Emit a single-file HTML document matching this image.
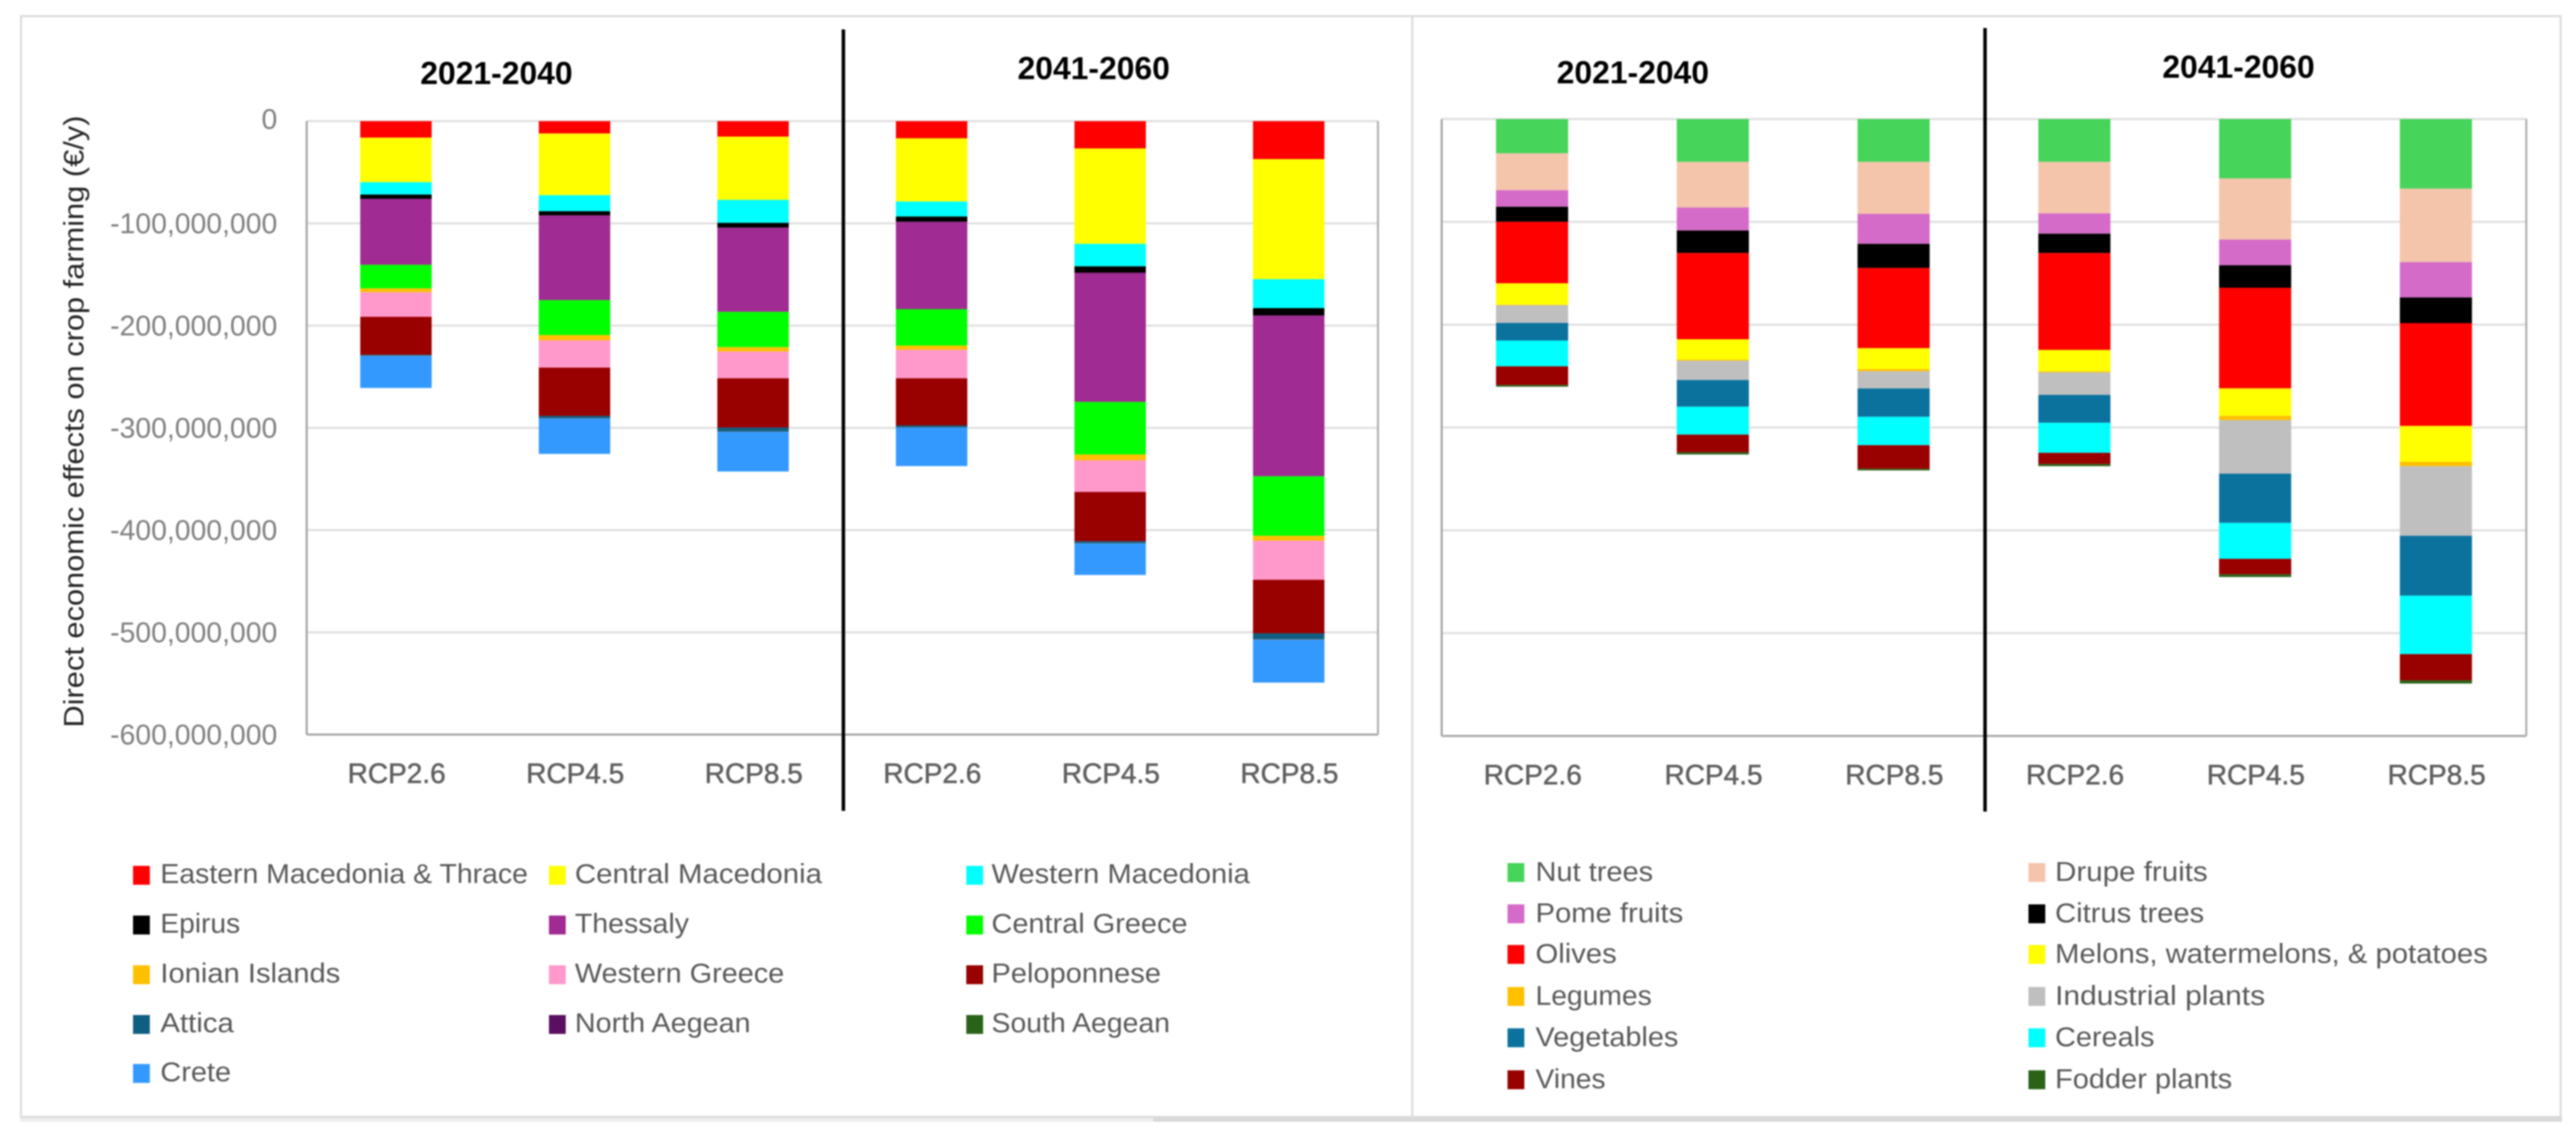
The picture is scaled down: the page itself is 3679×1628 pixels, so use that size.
<!DOCTYPE html>
<html lang="en">
<head>
<meta charset="utf-8">
<title>Direct economic effects on crop farming</title>
<style>
html,body{margin:0;padding:0;background:#fff;}
body{width:3679px;height:1628px;overflow:hidden;}
svg{display:block;font-family:"Liberation Sans",Arial,sans-serif;filter:blur(1px);}
</style>
</head>
<body>
<svg id="figure" width="3679" height="1628" viewBox="0 0 3679 1628" xmlns="http://www.w3.org/2000/svg">
  <rect x="0" y="0" width="3679" height="1628" fill="#ffffff"/>
  <rect x="29" y="1594" width="1620" height="8" fill="#eeeeee"/>
  <rect x="1647" y="1594" width="2012" height="8" fill="#d9d9d9"/>
  <rect x="30" y="23" width="1987" height="1572" fill="none" stroke="#dcdcdc" stroke-width="3"/>
  <rect x="2017" y="23" width="1640" height="1572" fill="none" stroke="#dcdcdc" stroke-width="3"/>
  <g id="regionChart"></g>
  <g id="cropChart"></g>
  <text transform="translate(119,602) rotate(-90)" text-anchor="middle" font-size="40" fill="#262626" textLength="874" lengthAdjust="spacingAndGlyphs">Direct economic effects on crop farming (€/y)</text>
  <text x="709" y="120" text-anchor="middle" font-size="45.5" font-weight="bold" fill="#000">2021-2040</text>
  <text x="1562" y="113" text-anchor="middle" font-size="45.5" font-weight="bold" fill="#000">2041-2060</text>
  <text x="2332" y="119" text-anchor="middle" font-size="45.5" font-weight="bold" fill="#000">2021-2040</text>
  <text x="3197" y="111" text-anchor="middle" font-size="45.5" font-weight="bold" fill="#000">2041-2060</text>
  <g id="regionLegend"></g>
  <g id="cropLegend"></g>
  <rect x="1202" y="42" width="5" height="1116" fill="#000"/>
  <rect x="2832.5" y="40" width="5" height="1119" fill="#000"/>
</svg>
<script>
// Shared axis data (values in millions of euros per year)
const categories = ["RCP2.6", "RCP4.5", "RCP8.5", "RCP2.6", "RCP4.5", "RCP8.5"];
const yTicks = [0, -100, -200, -300, -400, -500, -600];
const yTickLabels = ["0", "-100,000,000", "-200,000,000", "-300,000,000", "-400,000,000", "-500,000,000", "-600,000,000"];

// Region series, one value per category
const easternMacedonia = [16.2, 12.1, 15.2, 16.8, 26.7, 37.2];
const centralMacedonia = [43.5, 60.3, 61.8, 61.8, 93.3, 117.4];
const westernMacedonia = [12.1, 15.7, 22.5, 14.7, 22.0, 28.3];
const epirus = [4.2, 4.2, 4.7, 5.2, 6.3, 7.3];
const thessaly = [64.5, 82.8, 82.3, 85.4, 126.3, 157.2];
const centralGreece = [23.1, 34.1, 34.6, 35.6, 51.4, 58.2];
const ionianIslands = [3.7, 5.2, 4.2, 4.2, 5.8, 4.7];
const westernGreece = [24.1, 26.7, 26.2, 27.8, 30.9, 38.3];
const peloponnese = [37.2, 47.2, 48.2, 46.1, 48.2, 52.4];
const attica = [0.8, 2.2, 3.8, 1.7, 1.7, 5.7];
const northAegean = [0.1, 0.2, 0.2, 0.2, 0.2, 0.3];
const southAegean = [0.1, 0.2, 0.2, 0.2, 0.2, 0.3];
const crete = [31.4, 34.6, 38.8, 37.7, 30.9, 41.9];

// Crop series, one value per category
const nutTrees = [33.3, 41.7, 41.7, 41.7, 57.8, 67.7];
const drupeFruits = [35.9, 44.3, 50.5, 50.0, 59.4, 71.4];
const pomeFruits = [16.1, 22.4, 29.2, 19.8, 25.0, 34.4];
const citrusTrees = [14.6, 21.9, 23.4, 18.8, 21.9, 25.0];
const olives = [59.9, 83.9, 78.1, 94.3, 97.9, 100.0];
const melons = [20.8, 19.8, 20.3, 20.8, 26.6, 34.9];
const legumes = [0.5, 1.0, 2.1, 1.0, 4.2, 4.2];
const industrialPlants = [17.2, 18.8, 16.7, 21.9, 52.1, 67.7];
const vegetables = [17.2, 26.0, 27.6, 27.1, 47.9, 58.3];
const cereals = [25.0, 27.1, 27.6, 29.2, 34.9, 56.8];
const vines = [18.2, 17.2, 22.9, 10.9, 15.1, 25.5];
const fodderPlants = [1.6, 2.1, 1.6, 2.1, 2.6, 3.1];

const regionNames = ["Eastern Macedonia & Thrace", "Central Macedonia", "Western Macedonia", "Epirus", "Thessaly", "Central Greece", "Ionian Islands", "Western Greece", "Peloponnese", "Attica", "North Aegean", "South Aegean", "Crete"];
const cropNames = ["Nut trees", "Drupe fruits", "Pome fruits", "Citrus trees", "Olives", "Melons, watermelons, & potatoes", "Legumes", "Industrial plants", "Vegetables", "Cereals", "Vines", "Fodder plants"];

const regionSeries = [easternMacedonia, centralMacedonia, westernMacedonia, epirus, thessaly, centralGreece, ionianIslands, westernGreece, peloponnese, attica, northAegean, southAegean, crete];
const cropSeries = [nutTrees, drupeFruits, pomeFruits, citrusTrees, olives, melons, legumes, industrialPlants, vegetables, cereals, vines, fodderPlants];

const regionColors = ["#ff0000", "#ffff00", "#00ffff", "#000000", "#a02b93", "#00ff00", "#ffc000", "#ff99cc", "#990000", "#0f5f80", "#5b0f5f", "#2a6318", "#3399ff"];
const cropColors = ["#47d45a", "#f4c5ab", "#d56bc8", "#000000", "#ff0000", "#ffff00", "#ffc000", "#bfbfbf", "#0b729e", "#00ffff", "#990000", "#2a6318"];

const SVGNS = "http://www.w3.org/2000/svg";

function slug(s) {
  return s.toLowerCase().replace(/[^a-z0-9]+/g, "-").replace(/^-|-$/g, "");
}
function rectEl(parent, x, y, w, h, fill) {
  const el = document.createElementNS(SVGNS, "rect");
  el.setAttribute("x", x);
  el.setAttribute("y", y);
  el.setAttribute("width", w);
  el.setAttribute("height", h);
  el.setAttribute("fill", fill);
  parent.appendChild(el);
  return el;
}
function textEl(parent, x, y, str, size, fill, anchor) {
  const el = document.createElementNS(SVGNS, "text");
  el.setAttribute("x", x);
  el.setAttribute("y", y);
  el.setAttribute("font-size", size);
  el.setAttribute("fill", fill);
  el.setAttribute("text-anchor", anchor);
  el.textContent = str;
  parent.appendChild(el);
  return el;
}

function drawChart(cfg) {
  const root = document.getElementById(cfg.id);
  const yDomainTop = yTicks[0];
  const yDomainBottom = yTicks[yTicks.length - 1];
  const yScale = function (v) {
    return cfg.top + (yDomainTop - v) / (yDomainTop - yDomainBottom) * (cfg.bottom - cfg.top);
  };
  const band = (cfg.right - cfg.left) / categories.length;
  const xCenter = function (i) { return cfg.left + band * (i + 0.5); };

  yTicks.forEach(function (t, i) {
    const g = rectEl(root, cfg.left, yScale(t) - 1.5, cfg.right - cfg.left, 3, t === yDomainBottom ? "#a6a6a6" : "#dfdfdf");
    
    
    if (cfg.showTicks) {
      const lab = textEl(root, cfg.left - 42, yScale(t) + (t === 0 ? 11 : 14), yTickLabels[i], 40.5, "#7f7f7f", "end");
      
      
    }
  });
  const axL = rectEl(root, cfg.left - 1.5, cfg.top, 3, cfg.bottom - cfg.top, "#a6a6a6");
  
  
  const axR = rectEl(root, cfg.right - 1.5, cfg.top, 3, cfg.bottom - cfg.top, "#b0b0b0");
  
  

  categories.forEach(function (c, i) {
    let cum = 0;
    cfg.series.forEach(function (vals, s) {
      const y0 = yScale(-cum);
      cum += vals[i];
      const y1 = yScale(-cum);
      const seg = rectEl(root, xCenter(i) - cfg.barWidth / 2, y0, cfg.barWidth, y1 - y0, cfg.colors[s]);
      
      
    });
    const lab = textEl(root, xCenter(i) + 1, cfg.bottom + 69, c, 40, "#5f5f5f", "middle");
    lab.setAttribute("stroke", "#5f5f5f");
    lab.setAttribute("stroke-width", "0.7");
    
    
  });
}

function drawLegend(cfg) {
  const root = document.getElementById(cfg.id);
  cfg.names.forEach(function (name, i) {
    const col = i % cfg.cols;
    const row = Math.floor(i / cfg.cols);
    const sw = rectEl(root, cfg.swatchX[col], cfg.rowY[row] - 13.5, 24, 27, cfg.colors[i]);
    
    
    const t = textEl(root, cfg.textX[col], cfg.rowY[row] + cfg.textDy, name, cfg.fontSize, "#595959", "start");
    t.setAttribute("textLength", cfg.labelLengths[i]);
    t.setAttribute("lengthAdjust", "spacingAndGlyphs");
    
    
  });
}

drawChart({ id: "regionChart", left: 438, right: 1968, top: 173, bottom: 1049, barWidth: 102, series: regionSeries, colors: regionColors, names: regionNames, showTicks: true });
drawChart({ id: "cropChart", left: 2059, right: 3608, top: 170, bottom: 1051, barWidth: 103, series: cropSeries, colors: cropColors, names: cropNames, showTicks: false });

drawLegend({ id: "regionLegend", names: regionNames, colors: regionColors, cols: 3, swatchX: [190, 784, 1380], textX: [229, 821, 1416], rowY: [1250, 1321, 1392, 1463, 1533], fontSize: 39, textDy: 11, labelLengths: [525, 353, 369, 114, 163, 280, 257, 299, 242, 105, 251, 255, 101] });
drawLegend({ id: "cropLegend", names: cropNames, colors: cropColors, cols: 2, swatchX: [2153, 2897], textX: [2193, 2935], rowY: [1246, 1305, 1363, 1423, 1482, 1542], fontSize: 39, textDy: 12, labelLengths: [168, 218, 211, 213, 116, 618, 166, 300, 204, 142, 100, 253] });
</script>
</body>
</html>
